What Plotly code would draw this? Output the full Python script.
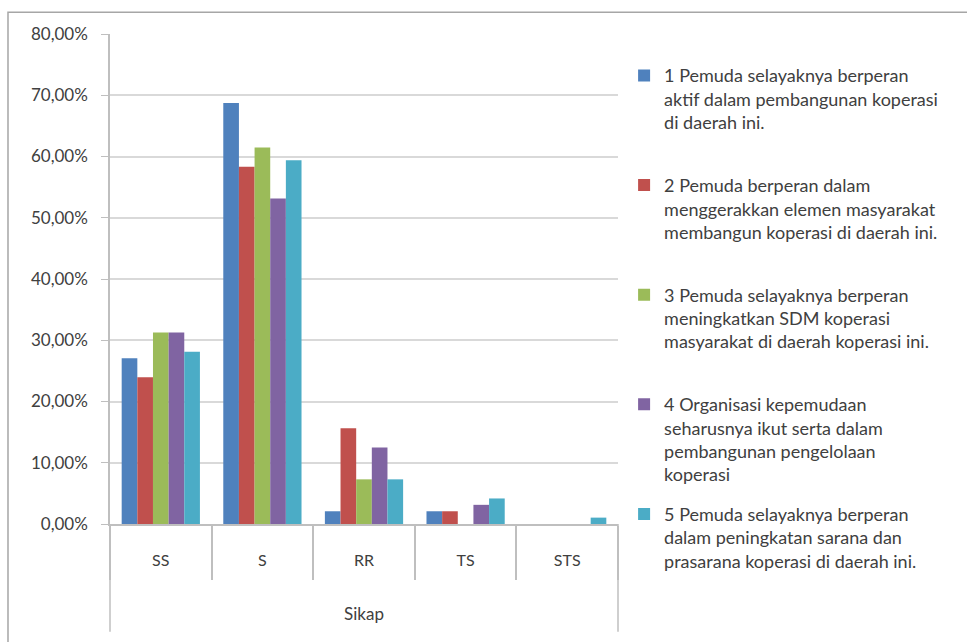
import plotly.graph_objects as go

categories = ["SS", "S", "RR", "TS", "STS"]
axis_title = "Sikap"

series_names = [
    "1 Pemuda selayaknya berperan<br>aktif dalam pembangunan koperasi<br>di daerah ini.<br> ",
    "2 Pemuda berperan dalam<br>menggerakkan elemen masyarakat<br>membangun koperasi di daerah ini.<br> ",
    "3 Pemuda selayaknya berperan<br>meningkatkan SDM koperasi<br>masyarakat di daerah koperasi ini.<br> ",
    "4 Organisasi kepemudaan<br>seharusnya ikut serta dalam<br>pembangunan pengelolaan<br>koperasi",
    "5 Pemuda selayaknya berperan<br>dalam peningkatan sarana dan<br>prasarana koperasi di daerah ini.",
]

s1 = [0.2708, 0.6875, 0.0208, 0.0208, 0.0]
s2 = [0.2396, 0.5833, 0.1563, 0.0208, 0.0]
s3 = [0.3125, 0.6146, 0.0729, 0.0, 0.0]
s4 = [0.3125, 0.5313, 0.1250, 0.0313, 0.0]
s5 = [0.2813, 0.5938, 0.0729, 0.0417, 0.0104]
series_values = [s1, s2, s3, s4, s5]

colors = ["#4F81BD", "#C0504D", "#9BBB59", "#8064A2", "#4BACC6"]

y_ticks = [0, 0.1, 0.2, 0.3, 0.4, 0.5, 0.6, 0.7, 0.8]

fig = go.Figure()
for i, (name, vals) in enumerate(zip(series_names, series_values)):
    fig.add_trace(go.Bar(
        x=categories, y=vals, name=name,
        marker=dict(color=colors[i], line=dict(width=0)),
        legendgroup=str(i),
    ))

FONT = "Lato"
TXT = "#404040"
AXC = "#BFBFBF"
fig.update_layout(
    width=967, height=642,
    margin=dict(l=110, r=349, t=34, b=113),
    paper_bgcolor="white", plot_bgcolor="white",
    separators=",.",
    barmode="group", bargap=0.23, bargroupgap=0,
    font=dict(family=FONT, size=17, color=TXT),
    legend=dict(
        x=1.012, y=0.9525, xanchor="left", yanchor="top",
        font=dict(family=FONT, size=18, color=TXT),
        traceorder="grouped", valign="top",
        tracegroupgap=13, maxheight=630,
        bgcolor="rgba(0,0,0,0)",
    ),
    showlegend=True,
)
fig.update_yaxes(
    range=[0, 0.8], tickvals=y_ticks, tickformat=".2%",
    showgrid=True, gridcolor="#D9D9D9", gridwidth=1.5,
    showline=True, linecolor=AXC, linewidth=1.5,
    ticks="outside", ticklen=7, tickcolor=AXC,
    ticklabelstandoff=10,
    tickfont=dict(family=FONT, size=17, color=TXT),
    zeroline=False,
)
fig.update_xaxes(
    type="category",
    showline=True, linecolor=AXC, linewidth=1.5,
    ticks="outside", tickson="boundaries", ticklen=54, tickcolor=AXC, tickwidth=1.5,
    ticklabelstandoff=21,
    showgrid=False,
    tickfont=dict(family=FONT, size=16, color=TXT),
    title=dict(text=axis_title, font=dict(family=FONT, size=17, color=TXT), standoff=40),
)
# outer divider lines of the category axis
for xd in (0, 1):
    fig.add_shape(type="line", xref="x domain", yref="paper",
                  x0=xd, x1=xd, y0=0, y1=-0.22,
                  line=dict(color=AXC, width=1.5))
# chart frame
fig.add_shape(
    type="rect", xref="paper", yref="paper",
    x0=-0.2008, x1=1.75, y0=-0.6, y1=1.0444,
    line=dict(color="#A6A6A6", width=1.5), fillcolor="rgba(0,0,0,0)", layer="below",
)

fig.write_html(
    "out.html",
    config={"displayModeBar": False},
    post_script="document.documentElement.style.margin='0';document.body.style.margin='0';document.body.style.overflow='hidden';",
)
